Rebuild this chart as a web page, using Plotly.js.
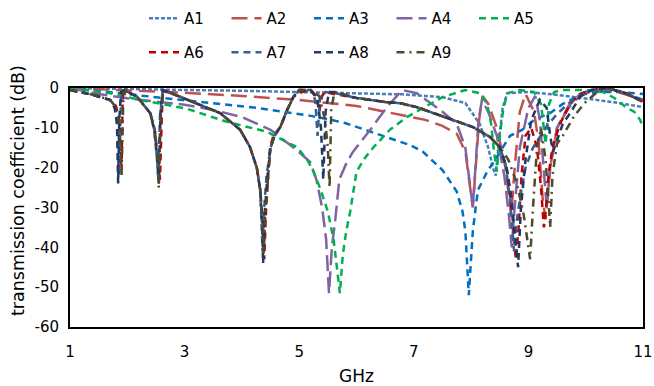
<!DOCTYPE html>
<html>
<head>
<meta charset="utf-8">
<script src="https://cdn.plot.ly/plotly-3.0.1.min.js"></script>
<style>html,body{margin:0;padding:0;background:#fff;}#chart{width:654px;height:386px;}</style>
</head>
<body>
<div id="chart"></div>
<script>
// Series names
const names = ["A1","A2","A3","A4","A5","A6","A7","A8","A9"];

// Frequency (GHz) / transmission coefficient (dB)
const a1x = [1,2,3,4,5,6,6.8,7.5,7.9,8.15,8.3,8.38,8.43,8.48,8.55,8.63,9.0,9.55,10,10.5,11];
const a1y = [0,-0.3,-0.5,-0.7,-1.0,-1.2,-1.6,-2.3,-3.8,-9,-15,-20,-22,-14,-5,-1.3,-1.0,-1.8,-2.6,-3.6,-4.8];

const a2x = [1,2,3,4,5,6,6.9,7.2,7.5,7.75,7.9,7.97,8.03,8.08,8.14,8.2,8.3,8.45,8.6,8.7,8.76,8.85,8.95,9.1,9.18,9.25,9.3,9.38,9.5,9.7,9.9,10.1,10.3,10.6,11];
const a2y = [0,-0.6,-1.2,-2,-3,-4.5,-7,-8,-9.5,-11.5,-16,-23,-30,-20,-8,-2,-4,-10,-20,-32,-20,-6,-1.5,-6,-14,-28,-33,-20,-10,-5,-2,-0.8,-0.5,-1.2,-3];

const a3x = [1,2,2.92,4.26,5.2,5.5,5.8,6.24,6.76,6.93,7.16,7.5,7.75,7.85,7.9,7.93,7.96,7.99,8.03,8.08,8.12,8.28,8.42,8.68,8.89,9.1,9.38,9.6,9.9,10.2,10.6,11];
const a3y = [0,-1.5,-3,-5,-7,-7.8,-8.8,-11,-13.5,-14.3,-16,-20.6,-26,-31,-36,-43,-52,-45,-36,-30,-25.6,-21,-18,-12,-10.5,-8,-6.3,-4,-1.8,-1,-1,-1.5];

const a4x = [1,1.5,2,2.5,3,3.5,4,4.5,4.96,5.19,5.3,5.4,5.47,5.52,5.57,5.63,5.7,5.82,5.94,6.24,6.53,6.8,7.05,7.46,7.75,7.9,7.98,8.03,8.08,8.13,8.19,8.3,8.45,8.58,8.66,8.71,8.76,8.85,9.0,9.12,9.2,9.27,9.32,9.38,9.5,9.7,9.9,10.1,10.3,10.6,11];
const a4y = [0,-1.5,-2.6,-3.4,-4.2,-5.5,-7.3,-10.5,-15.6,-18.6,-23,-30,-38,-51.5,-40,-33,-23,-19,-16,-10.5,-4.8,-0.5,-1.3,-5.5,-9,-15,-24,-30,-19,-8,-3,-6,-12,-22,-32,-40,-30,-15,-5,-2,-8,-22,-30,-20,-10,-4.5,-1.5,-0.4,0,-0.8,-3];

const a5x = [1,1.3,1.7,2.22,2.92,3.04,3.74,4.44,4.84,4.96,5.14,5.25,5.36,5.5,5.6,5.66,5.71,5.76,5.82,5.89,6.0,6.15,6.29,6.58,6.88,7.1,7.5,7.9,8.15,8.28,8.35,8.4,8.45,8.5,8.56,8.63,8.85,9.1,9.22,9.3,9.36,9.45,9.6,10.0,10.3,10.5,10.7,10.85,10.95,11];
const a5y = [0,-0.5,-1.3,-3,-5,-5.2,-8.5,-11,-14,-14.8,-18,-21,-25,-31,-38,-45,-51.5,-42,-36,-31,-21,-17.5,-15,-10.5,-7.3,-5.5,-2.3,-0.5,-1.3,-4,-9,-16,-21,-12,-5.5,-1.3,-0.5,-1,-4,-14,-4,-1,-0.5,-0.5,-1,-2.5,-4.8,-6,-8,-10];

const a6x = [1,1.4,1.7,1.8,1.85,1.88,1.9,1.91,1.92,1.95,2.17,2.4,2.48,2.53,2.57,2.6,2.62,2.92,3.27,3.62,3.97,4.14,4.26,4.32,4.36,4.39,4.42,4.45,4.49,4.55,4.67,4.79,4.9,5.05,5.2,5.3,5.35,5.4,5.45,5.6,6.0,6.5,6.76,7.05,7.34,7.68,8.03,8.33,8.5,8.62,8.72,8.78,8.83,8.88,8.95,9.05,9.15,9.22,9.27,9.31,9.35,9.42,9.55,9.73,9.9,10.1,10.37,10.7,11];
const a6y = [-0.5,-1.7,-3,-4.5,-7,-12,-20,-8,-1,-0.5,-2.2,-6.3,-10.5,-17,-23,-8,-0.5,-2.2,-4.3,-6.3,-10.5,-14.8,-20,-25.6,-33,-43,-31,-23,-15,-12,-9.8,-5.5,-2.2,-1,-0.5,-2,-6,-2,-1,-1.5,-2.5,-3.5,-3.8,-4.8,-6.3,-8,-9.8,-12.3,-14.8,-20,-32,-43,-35,-22,-12,-10,-15,-25,-35,-30,-22,-15,-9,-4,-1.5,-0.5,0,-1.3,-3.5];

const a7x = [1,1.4,1.7,1.78,1.82,1.86,1.88,1.9,1.95,2.17,2.4,2.47,2.51,2.54,2.57,2.62,2.92,3.27,3.62,3.97,4.14,4.26,4.32,4.34,4.36,4.39,4.43,4.5,4.57,4.67,4.79,4.9,5.0,5.2,5.28,5.32,5.36,5.42,5.6,6.0,6.5,6.76,7.05,7.34,7.68,8.03,8.33,8.5,8.6,8.68,8.75,8.8,8.85,8.95,9.08,9.3,9.5,9.73,9.9,10.1,10.37,10.7,11];
const a7y = [-0.5,-1.7,-3,-4.8,-8,-22,-7,-1,-0.5,-2.2,-6.3,-10.5,-16,-22,-7,-0.5,-2.2,-4.3,-6.3,-10.5,-14.8,-20,-25.6,-33,-41,-30,-22,-15,-12,-9.8,-5.5,-2.2,-0.5,-0.5,-3,-12,-3,-1,-1.2,-2.5,-3.5,-3.8,-4.8,-6.3,-8,-9.8,-12.3,-14.8,-19,-28,-41,-33,-28,-20,-15,-10,-6.5,-3.5,-2,-0.6,0,-1.3,-3];

const a8x = [1,1.4,1.7,1.78,1.82,1.84,1.86,1.89,1.95,2.17,2.4,2.47,2.52,2.55,2.58,2.62,2.92,3.27,3.62,3.97,4.14,4.26,4.32,4.35,4.37,4.4,4.44,4.5,4.57,4.67,4.79,4.9,5.0,5.2,5.32,5.38,5.42,5.46,5.52,5.62,6.0,6.5,6.76,7.05,7.34,7.68,8.03,8.33,8.5,8.62,8.7,8.76,8.82,8.87,8.95,9.05,9.2,9.32,9.38,9.43,9.5,9.6,9.73,9.9,10.1,10.37,10.7,11];
const a8y = [-0.5,-1.7,-3,-5,-9,-24,-8,-1,-0.5,-2.2,-6.3,-10.5,-18,-24,-6,-0.5,-2.2,-4.3,-6.3,-10.5,-14.8,-20,-25.6,-33,-44,-31,-23,-15,-12,-9.8,-5.5,-2.2,-0.5,-0.5,-3,-10,-23,-6,-1,-1,-2.5,-3.5,-3.8,-4.8,-6.3,-8,-9.8,-12.3,-14.8,-20,-27,-36,-45,-30,-18,-8,-3,-5,-12,-16,-13,-9,-6.3,-2.2,-0.5,0,-1.3,-3.5];

const a9x = [1,1.4,1.7,1.8,1.85,1.88,1.9,1.93,1.97,2.17,2.4,2.48,2.52,2.55,2.58,2.63,2.92,3.27,3.62,3.97,4.14,4.26,4.32,4.35,4.38,4.41,4.45,4.5,4.57,4.67,4.79,4.9,5.0,5.2,5.35,5.45,5.5,5.53,5.56,5.62,6.0,6.5,6.76,7.05,7.34,7.68,8.03,8.33,8.5,8.65,8.8,8.92,8.98,9.03,9.08,9.15,9.22,9.3,9.35,9.38,9.42,9.5,9.6,9.8,10.0,10.2,10.4,10.7,11];
const a9y = [-0.5,-1.7,-3,-4.8,-8,-14,-22,-3,-0.5,-2.2,-6.3,-10.5,-17,-25,-8,-0.5,-2.2,-4.3,-6.3,-10.5,-14.8,-20,-25.6,-33,-42,-31,-23,-15,-12,-9.8,-5.5,-2.2,-0.5,-0.5,-2,-8,-15,-25,-5,-1,-2.5,-3.5,-3.8,-4.8,-6.3,-8,-9.8,-12.3,-14.8,-18,-24,-32,-38,-43,-30,-15,-10,-18,-28,-35,-22,-14,-12,-7,-3.5,-1,0,-1.3,-3.5];

// Tick labels
const xTicks = [1,3,5,7,9,11];
const yTicks = [0,-10,-20,-30,-40,-50,-60];

const xs = [a1x,a2x,a3x,a4x,a5x,a6x,a7x,a8x,a9x];
const ys = [a1y,a2y,a3y,a4y,a5y,a6y,a7y,a8y,a9y];
const colors = ["#4A7EBB","#C0504D","#0070C0","#8064A2","#00B050","#C00000","#376092","#1F3864","#4F4A2A"];
const dashes = ["4px,2px","16px,7px","7px,5px","16px,6px","7px,5px","7px,5px","7px,5px","7px,5px","8px,5px,2px,5px"];

const traces = names.map((n,i)=>({
  type:"scatter", mode:"lines", name:n, x:xs[i], y:ys[i],
  line:{color:colors[i], width:2.5, dash:dashes[i]},
  legend: i<5 ? "legend" : "legend2"
}));

const font = "DejaVu Sans, Verdana, sans-serif";
const legendCommon = {
  orientation:"h", xref:"container", yref:"container", xanchor:"left", yanchor:"top",
  font:{family:font, size:15, color:"#000"}, entrywidth:37.5, entrywidthmode:"pixels",
  bgcolor:"rgba(0,0,0,0)", traceorder:"normal"
};

const layout = {
  width:654, height:386,
  margin:{l:70, r:11, t:88, b:59},
  paper_bgcolor:"#fff", plot_bgcolor:"#fff",
  font:{family:font, size:15, color:"#000"},
  showlegend:true,
  legend:Object.assign({}, legendCommon, {x:144/654, y:1-2/386}),
  legend2:Object.assign({}, legendCommon, {x:144/654, y:1-36/386}),
  xaxis:{
    range:[1,11], tickvals:xTicks, ticktext:xTicks.map(String),
    showline:true, mirror:true, linecolor:"#000", linewidth:2,
    showgrid:false, zeroline:false, ticks:"", ticklabelstandoff:10,
    tickfont:{family:font, size:15},
    title:{text:"GHz", font:{family:font, size:17}, standoff:10}
  },
  yaxis:{
    range:[-60,0], tickvals:yTicks, ticktext:yTicks.map(String),
    showline:true, mirror:true, linecolor:"#000", linewidth:2,
    showgrid:false, zeroline:false, ticks:"", ticklabelstandoff:6,
    tickfont:{family:font, size:15}
  },
  annotations:[{
    text:"transmission coefficient (dB)", textangle:-90,
    xref:"paper", yref:"paper", x:-52/573, y:(327-191)/239,
    xanchor:"center", yanchor:"middle", showarrow:false,
    font:{family:font, size:17.5, color:"#000"}
  }]
};

Plotly.newPlot("chart", traces, layout, {displayModeBar:false, staticPlot:true});
</script>
</body>
</html>
